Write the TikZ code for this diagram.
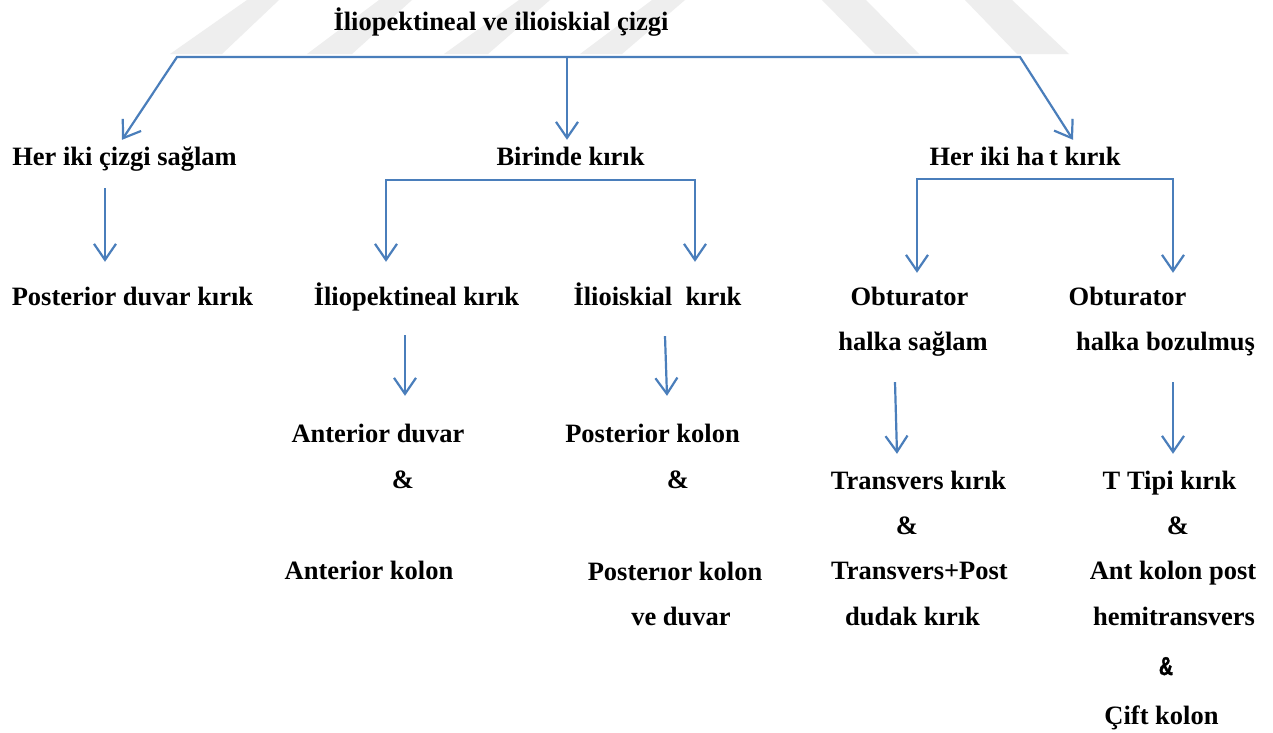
\documentclass[tikz,border=0pt]{standalone}
\usepackage{fontspec}
\setmainfont{Liberation Serif}
\newfontfamily\ampfont[FakeStretch=0.75,FakeBold=1.5]{Liberation Sans}
\usetikzlibrary{arrows.meta}
\definecolor{lineblue}{HTML}{4A7EBB}
\definecolor{wm}{HTML}{EEEEEE}
\begin{document}
\begin{tikzpicture}[x=1pt,y=1pt,
  lbl/.style={anchor=base, inner sep=0pt, text height=19pt, text depth=6pt,
    font=\fontsize{26.5}{30}\selectfont\bfseries},
  conn/.style={draw=lineblue, line width=2.2pt, line join=miter},
  arr/.style={conn, -{Straight Barb[length=16pt,width=22pt]}},
  arrtwo/.style={conn, {Straight Barb[length=16pt,width=22pt]}-{Straight Barb[length=16pt,width=22pt]}},
  wmband/.style={fill=wm, draw=none}]
\useasboundingbox (0,0) rectangle (1273,-732);
\fill[white] (0,0) rectangle (1273,-732);
% watermark
\fill[wmband] (170,-54) -- (222,-54) -- (279,0) -- (247,0) -- cycle;
\fill[wmband] (307,-54) -- (352,-54) -- (412,0) -- (379,0) -- cycle;
\fill[wmband] (444,-54) -- (488,-54) -- (550,0) -- (519,0) -- cycle;
\fill[wmband] (580,-54) -- (622,-54) -- (685,0) -- (652,0) -- cycle;
\fill[wmband] (822,0) -- (866,0) -- (919,-54) -- (875,-54) -- cycle;
\fill[wmband] (965,0) -- (1012,0) -- (1069,-54) -- (1017,-54) -- cycle;
% nodes
\node[lbl] (title) at (501,-30) {İliopektineal ve ilioiskial çizgi};
\node[lbl] (n1) at (124.5,-165) {Her iki çizgi sağlam};
\node[lbl] (n2) at (570.5,-165) {Birinde kırık};
\node[lbl] (n3) at (1025,-165) {Her iki ha\hspace{0.18em}t kırık};
\node[lbl] (n4) at (132.5,-305) {Posterior duvar kırık};
\node[lbl] (n5) at (416.5,-305) {İliopektineal kırık};
\node[lbl] (n6) at (657.5,-305) {İlioiskial\ \ kırık};
\node[lbl] (n7a) at (909.5,-305) {Obturator};
\node[lbl] (n7b) at (913,-350) {halka sağlam};
\node[lbl] (n8a) at (1127.5,-305) {Obturator};
\node[lbl] (n8b) at (1165.5,-350) {halka bozulmuş};
\node[lbl] (n9a) at (378,-442) {Anterior duvar};
\node[lbl] (n9b) at (403,-488) {\&};
\node[lbl] (n9c) at (369,-579) {Anterior kolon};
\node[lbl] (n10a) at (652.5,-442) {Posterior kolon};
\node[lbl] (n10b) at (678,-488) {\&};
\node[lbl] (n10c) at (675,-580) {Posterıor kolon};
\node[lbl] (n10d) at (681,-625) {ve duvar};
\node[lbl] (n11a) at (918.5,-489) {Transvers kırık};
\node[lbl] (n11b) at (907,-534) {\&};
\node[lbl] (n11c) at (919.5,-579) {Transvers+Post};
\node[lbl] (n11d) at (912.5,-625) {dudak kırık};
\node[lbl] (n12a) at (1169.5,-489) {T Tipi kırık};
\node[lbl] (n12b) at (1178,-534) {\&};
\node[lbl] (n12c) at (1173,-579) {Ant kolon post};
\node[lbl] (n12d) at (1174,-625) {hemitransvers};
\node[lbl, font=\fontsize{26}{30}\selectfont\ampfont\bfseries] (n12e) at (1166,-675) {\&};
\node[lbl] (n12f) at (1161.5,-724) {Çift kolon};
% branch coordinates
\coordinate (tL) at (177,-57);
\coordinate (tM) at (567,-57);
\coordinate (tR) at (1020,-57);
\coordinate (bL) at (386,-180);
\coordinate (bR) at (695,-180);
\coordinate (hL) at (917,-179);
\coordinate (hR) at (1173,-179);
% connectors
\draw[arrtwo] ([xshift=-2.5pt,yshift=6pt]n1.north) -- (tL) -- (tR) -- ([xshift=48pt,yshift=6pt]n3.north);
\draw[arr] (tM) -- ([xshift=-3.5pt,yshift=6pt]n2.north);
\draw[arr] ([xshift=-19.5pt,yshift=-17pt]n1.south) -- ([xshift=-27.5pt,yshift=24pt]n4.north);
\draw[arrtwo] ([xshift=-30.5pt,yshift=24pt]n5.north) -- (bL) -- (bR) -- ([xshift=37.5pt,yshift=24pt]n6.north);
\draw[arrtwo] ([xshift=7.5pt,yshift=13pt]n7a.north) -- (hL) -- (hR) -- ([xshift=45.5pt,yshift=13pt]n8a.north);
\draw[arr] ([xshift=-11.5pt,yshift=-24pt]n5.south) -- ([xshift=27pt,yshift=27pt]n9a.north);
\draw[arr] ([xshift=7.5pt,yshift=-25pt]n6.south) -- ([xshift=14.5pt,yshift=27pt]n10a.north);
\draw[arr] ([xshift=-18pt,yshift=-26pt]n7b.south) -- ([xshift=-21.5pt,yshift=16pt]n11a.north);
\draw[arr] ([xshift=7.5pt,yshift=-26pt]n8b.south) -- ([xshift=3.5pt,yshift=16pt]n12a.north);
\end{tikzpicture}
\end{document}
